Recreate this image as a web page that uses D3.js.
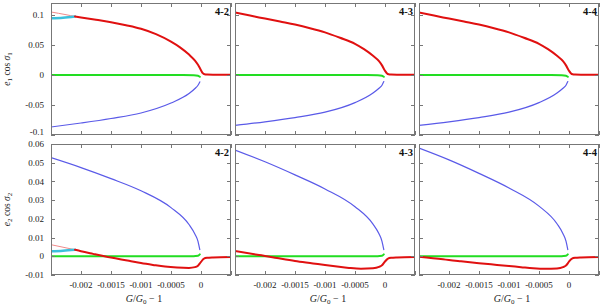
<!DOCTYPE html>
<html><head><meta charset="utf-8">
<script src="https://cdn.jsdelivr.net/npm/d3@7"></script>
<style>body{margin:0;background:#fff}svg{display:block}text{font-family:"Liberation Serif","DejaVu Serif",serif}</style>
</head><body><svg id="c" width="600" height="305"></svg>
<script>
const panelNames = ["4-2", "4-3", "4-4"];
const xDomain = [-0.0025, 0.0005];
const xTickVals = [-0.0025, -0.002, -0.0015, -0.001, -0.0005, 0, 0.0005];
const xTickLabels = ["-0.002", "-0.0015", "-0.001", "-0.0005", "0"];
const xTickLabelVals = [-0.002, -0.0015, -0.001, -0.0005, 0];
const topDomain = [-0.1, 0.12];
const topTicks = [-0.1, -0.05, 0, 0.05, 0.1];
const topTickLabels = ["-0.1", "-0.05", "0", "0.05", "0.1"];
const botDomain = [-0.01, 0.06];
const botTicks = [-0.01, 0, 0.01, 0.02, 0.03, 0.04, 0.05, 0.06];
const botTickLabels = ["-0.01", "0", "0.01", "0.02", "0.03", "0.04", "0.05", "0.06"];

// ---- top row: e1 cos sigma1 ----
const redTopX = [-0.0025, -0.00225, -0.0021, -0.002, -0.00175, -0.0015, -0.00125, -0.001, -0.00075, -0.0005, -0.00035, -0.0002, -0.0001, -0.00005, 0, 0.00003, 0.00006, 0.0001, 0.0002, 0.0005];
const redTop = [
  [0.105, 0.1005, 0.0975, 0.096, 0.092, 0.088, 0.083, 0.077, 0.068, 0.0555, 0.046, 0.034, 0.024, 0.017, 0.008, 0.003, 0.0012, 0.0008, 0.0006, 0.0005],
  [0.104, 0.099, 0.096, 0.094, 0.089, 0.084, 0.078, 0.071, 0.062, 0.052, 0.043, 0.032, 0.023, 0.016, 0.007, 0.003, 0.0012, 0.0008, 0.0006, 0.0005],
  [0.104, 0.099, 0.096, 0.094, 0.089, 0.084, 0.078, 0.071, 0.062, 0.052, 0.043, 0.032, 0.023, 0.016, 0.007, 0.003, 0.0012, 0.0008, 0.0006, 0.0005]
];
const blueTopX = [-0.0025, -0.002, -0.0015, -0.001, -0.0005, -0.0002, -0.0001, -0.00005, -0.00002];
const blueTop = [
  [-0.0867, -0.080, -0.0725, -0.0633, -0.0467, -0.031, -0.0225, -0.017, -0.0115],
  [-0.084, -0.078, -0.071, -0.062, -0.046, -0.030, -0.022, -0.017, -0.011],
  [-0.084, -0.078, -0.071, -0.062, -0.046, -0.030, -0.022, -0.017, -0.011]
];
const greenTopX = [-0.0025, -0.0003, -0.00012, -0.00005, -0.00002];
const greenTop = [0, 0, -0.0003, -0.0012, -0.003];
const cyanTopX = [-0.0025, -0.0023, -0.0021];
const cyanTop = [0.0945, 0.0955, 0.0975];

// ---- bottom row: e2 cos sigma2 ----
const redBotX = [-0.0025, -0.0021, -0.002, -0.0018, -0.0015, -0.0012, -0.001, -0.0008, -0.0006, -0.0004, -0.0002, -0.0001, -0.00005, 0, 0.00005, 0.0001, 0.0002, 0.0005];
const redBot = [
  [0.0062, 0.0035, 0.0027, 0.0013, -0.0007, -0.0024, -0.0036, -0.0046, -0.0055, -0.006, -0.0062, -0.0058, -0.005, -0.003, -0.0012, -0.0008, -0.0006, -0.0004],
  [0.0028, 0.0007, 0.0002, -0.0009, -0.0025, -0.0038, -0.0047, -0.0055, -0.0062, -0.0066, -0.0064, -0.0057, -0.0048, -0.0028, -0.0012, -0.0008, -0.0006, -0.0004],
  [-0.0002, -0.0016, -0.0020, -0.0027, -0.0037, -0.0046, -0.0052, -0.0058, -0.0064, -0.0067, -0.0065, -0.0058, -0.0049, -0.0029, -0.0012, -0.0008, -0.0006, -0.0004]
];
const blueBotX = [-0.0025, -0.002, -0.0015, -0.001, -0.0005, -0.0002, -0.0001, -0.00005, -0.00002];
const blueBot = [
  [0.0527, 0.0474, 0.0415, 0.0350, 0.0260, 0.0170, 0.0118, 0.0080, 0.0035],
  [0.0568, 0.0505, 0.0435, 0.0360, 0.0265, 0.0172, 0.0120, 0.0080, 0.0035],
  [0.0578, 0.0515, 0.0443, 0.0365, 0.0268, 0.0174, 0.0121, 0.0081, 0.0035]
];
const greenBotX = [-0.0025, -0.0002, -0.00005, -0.00002];
const greenBot = [0, 0, 0.0003, 0.001];
const cyanBotX = [-0.0025, -0.0023, -0.0021];
const cyanBot = [0.0027, 0.003, 0.0035];

const svg = d3.select("#c");
const lefts = [51, 235, 419];
const pw = 180;
const rows = [
  {y0: 3, y1: 135, domain: topDomain, ticks: topTicks, labels: topTickLabels},
  {y0: 144, y1: 275, domain: botDomain, ticks: botTicks, labels: botTickLabels}
];
const C = {red: "#e01010", pink: "#f08a8a", green: "#22dd22", blue: "#5a5ae8", cyan: "#3cc0dc"};
const FS = 9;

function pts(xs, ys) { return xs.map((x, i) => [x, ys[i]]); }

rows.forEach((row, ri) => {
  const y = d3.scaleLinear().domain(row.domain).range([row.y1, row.y0]);
  lefts.forEach((lx, pi) => {
    const x = d3.scaleLinear().domain(xDomain).range([lx, lx + pw]);
    const g = svg.append("g");
    const cid = `clip${ri}${pi}`;
    svg.append("clipPath").attr("id", cid).append("rect")
      .attr("x", lx).attr("y", row.y0).attr("width", pw).attr("height", row.y1 - row.y0);
    const line = d3.line().x(d => x(d[0])).y(d => y(d[1])).curve(d3.curveMonotoneX);
    const lg = g.append("g").attr("clip-path", `url(#${cid})`);
    const draw = (data, color, w) => lg.append("path").attr("d", line(data))
      .attr("fill", "none").attr("stroke", color).attr("stroke-width", w)
      .attr("stroke-linejoin", "round").attr("stroke-linecap", "round");
    const split = -0.0021;
    if (ri === 0) {
      draw(pts(greenTopX, greenTop), C.green, 2);
      draw(pts(blueTopX, blueTop[pi]), C.blue, 1.2);
      if (pi === 0) {
        draw(pts(redTopX, redTop[pi]).filter(d => d[0] <= split), C.pink, 1);
        draw(pts(cyanTopX, cyanTop), C.cyan, 2.5);
        draw(pts(redTopX, redTop[pi]).filter(d => d[0] >= split), C.red, 2);
      } else {
        draw(pts(redTopX, redTop[pi]), C.red, 2);
      }
    } else {
      draw(pts(greenBotX, greenBot), C.green, 2);
      draw(pts(blueBotX, blueBot[pi]), C.blue, 1.2);
      if (pi === 0) {
        draw(pts(redBotX, redBot[pi]).filter(d => d[0] <= split), C.pink, 1);
        draw(pts(cyanBotX, cyanBot), C.cyan, 2.5);
        draw(pts(redBotX, redBot[pi]).filter(d => d[0] >= split), C.red, 2);
      } else {
        draw(pts(redBotX, redBot[pi]), C.red, 2);
      }
    }
    // frame
    g.append("rect").attr("x", lx + 0.5).attr("y", row.y0 + 0.5)
      .attr("width", pw - 1).attr("height", row.y1 - row.y0 - 1)
      .attr("fill", "none").attr("stroke", "#777").attr("stroke-width", 1);
    // ticks
    const tl = 4;
    xTickVals.forEach(v => {
      const px = Math.round(x(v)) + 0.5;
      g.append("line").attr("x1", px).attr("x2", px).attr("y1", row.y0).attr("y2", row.y0 + tl).attr("stroke", "#777");
      g.append("line").attr("x1", px).attr("x2", px).attr("y1", row.y1).attr("y2", row.y1 - tl).attr("stroke", "#777");
    });
    row.ticks.forEach(v => {
      const py = Math.round(y(v)) + 0.5;
      g.append("line").attr("x1", lx).attr("x2", lx + tl).attr("y1", py).attr("y2", py).attr("stroke", "#777");
      g.append("line").attr("x1", lx + pw).attr("x2", lx + pw - tl).attr("y1", py).attr("y2", py).attr("stroke", "#777");
    });
    // y tick labels
    if (pi === 0) {
      row.ticks.forEach((v, i) => {
        let off = 0;
        if (ri === 0 && i === 0) off = -3;
        g.append("text").attr("x", lx - 7).attr("y", y(v) + off).attr("dy", "0.35em")
          .attr("text-anchor", "end").attr("font-size", FS).attr("fill", "#222").text(row.labels[i]);
      });
    }
    // x tick labels
    if (ri === 1) {
      xTickLabelVals.forEach((v, i) => {
        g.append("text").attr("x", x(v)).attr("y", 288).attr("text-anchor", "middle")
          .attr("font-size", FS).attr("fill", "#222").text(xTickLabels[i]);
      });
      const t = g.append("text").attr("x", lx + pw / 2 + 3).attr("y", 302).attr("text-anchor", "middle")
        .attr("font-size", 10).attr("fill", "#222");
      t.append("tspan").attr("font-style", "italic").text("G");
      t.append("tspan").text("/");
      t.append("tspan").attr("font-style", "italic").text("G");
      t.append("tspan").attr("font-size", 7).attr("dy", 2).text("0");
      t.append("tspan").attr("dy", -2).text(" \u2212 1");
    }
    // panel label
    g.append("text").attr("x", lx + pw - 2).attr("y", row.y0 + 12).attr("text-anchor", "end")
      .attr("font-size", 10.5).attr("font-weight", "bold").attr("fill", "#111").text(panelNames[pi]);
  });
  // y axis title
  const cy = (row.y0 + row.y1) / 2;
  const t = svg.append("text").attr("transform", `translate(10,${cy}) rotate(-90)`)
    .attr("text-anchor", "middle").attr("font-size", 9.5).attr("fill", "#222");
  const n = ri === 0 ? "1" : "2";
  t.append("tspan").attr("font-style", "italic").text("e");
  t.append("tspan").attr("font-size", 7).attr("dy", 2).text(n);
  t.append("tspan").attr("dy", -2).text(" cos ");
  t.append("tspan").attr("font-style", "italic").text("\u03c3");
  t.append("tspan").attr("font-size", 7).attr("dy", 2).text(n);
});
</script></body></html>
